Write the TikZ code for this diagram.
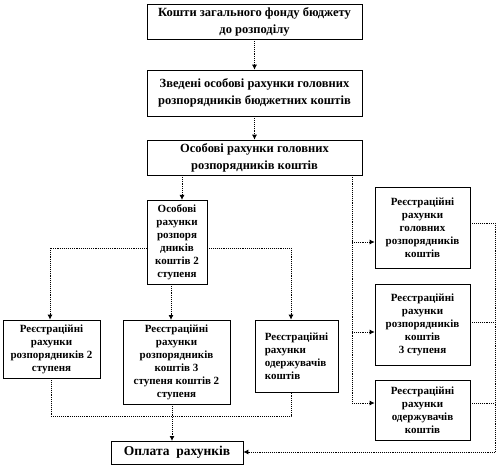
\documentclass[tikz,border=0pt]{standalone}
\usepackage{fontspec}
\setmainfont{Liberation Serif}
\usetikzlibrary{arrows.meta,calc}
\begin{document}
\begin{tikzpicture}[x=1pt,y=-1pt,
  box/.style={draw=black,line width=0.6pt,fill=white,inner sep=2pt,align=center,
    font=\fontsize{11}{13}\selectfont\bfseries},
  bigbox/.style={box,font=\fontsize{12.5}{17}\selectfont\bfseries},
  conn/.style={densely dotted,line width=0.9pt},
  arr/.style={conn,-{Latex[length=5pt,width=5pt]}}]
\useasboundingbox (0,0) rectangle (496,468);
% main boxes
\node[bigbox,minimum width=215pt,minimum height=35pt] (b1) at (254.5,21.5)
  {Кошти загального фонду бюджету\\до розподілу};
\node[bigbox,minimum width=215pt,minimum height=46pt] (b2) at (254.5,93)
  {Зведені особові рахунки головних\\розпорядників бюджетних коштів};
\node[bigbox,minimum width=215pt,minimum height=35pt] (b3) at (254.5,157.5)
  {Особові рахунки головних\\розпорядників коштів};
\node[box,minimum width=60pt,minimum height=84pt] (b4) at (177,242)
  {Особові\\рахунки\\розпоря\\дників\\коштів 2\\ступеня};
\node[box,minimum width=95pt,minimum height=81pt] (b5) at (422.5,227.5)
  {Реєстраційні\\рахунки\\головних\\розпорядників\\коштів};
\node[box,minimum width=95pt,minimum height=81pt] (b6) at (422.5,324.5)
  {Реєстраційні\\рахунки\\розпорядників\\коштів\\3 ступеня};
\node[box,minimum width=95pt,minimum height=60pt] (b7) at (422.5,410)
  {Реєстраційні\\рахунки\\одержувачів\\коштів};
\node[box,minimum width=97pt,minimum height=58pt] (b8) at (51.5,349)
  {Реєстраційні\\рахунки\\розпорядників 2\\ступеня};
\node[box,minimum width=107pt,minimum height=84pt] (b9) at (176.5,362)
  {Реєстраційні\\рахунки\\розпорядників\\коштів 3\\ступеня коштів 2\\ступеня};
\node[box,align=left,minimum width=83pt,minimum height=72pt] (b10) at (296.5,356)
  {Реєстраційні\\рахунки\\одержувачів\\коштів};
\node[bigbox,font=\fontsize{13.5}{16}\selectfont\bfseries,minimum width=132pt,minimum height=23pt] (b11) at (177,452.5)
  {Оплата\ \ рахунків};
% coordinates
\coordinate (t3) at (352,175);
\coordinate (t5) at (352,242);
\coordinate (t6) at (352,332);
\coordinate (t7) at (352,403);
\coordinate (h4l) at (50,248);
\coordinate (h4r) at (291,248);
\coordinate (d8) at (51,416);
\coordinate (d10) at (291,416);
\coordinate (r5) at (495,223);
\coordinate (r6) at (495,322);
\coordinate (r7) at (495,403);
\coordinate (r11) at (495,452);
% connectors
\draw[arr] (b1.south) -- (b2.north);
\draw[arr] (b2.south) -- (b3.north);
\draw[arr] (182,175) -- (182,200);
\draw[conn] (t3) -- (t7);
\draw[arr] (t5) -- (t5 -| b5.west);
\draw[arr] (t6) -- (t6 -| b6.west);
\draw[arr] (t7) -- (t7 -| b7.west);
\draw[conn] (h4l -| b4.west) -- (h4l);
\draw[arr] (h4l) -- (h4l |- b8.north);
\draw[conn] (h4r -| b4.east) -- (h4r);
\draw[arr] (h4r) -- (h4r |- b10.north);
\draw[arr] (171,284) -- (171,320);
\draw[conn] (d8 |- b8.south) -- (d8) -- (d10) -- (d10 |- b10.south);
\draw[arr] (172,404) -- (172,441);
\draw[conn] (r5 -| b5.east) -- (r5) -- (r11);
\draw[conn] (r6 -| b6.east) -- (r6);
\draw[conn] (r7 -| b7.east) -- (r7);
\draw[arr] (r11) -- (r11 -| b11.east);
\end{tikzpicture}
\end{document}
